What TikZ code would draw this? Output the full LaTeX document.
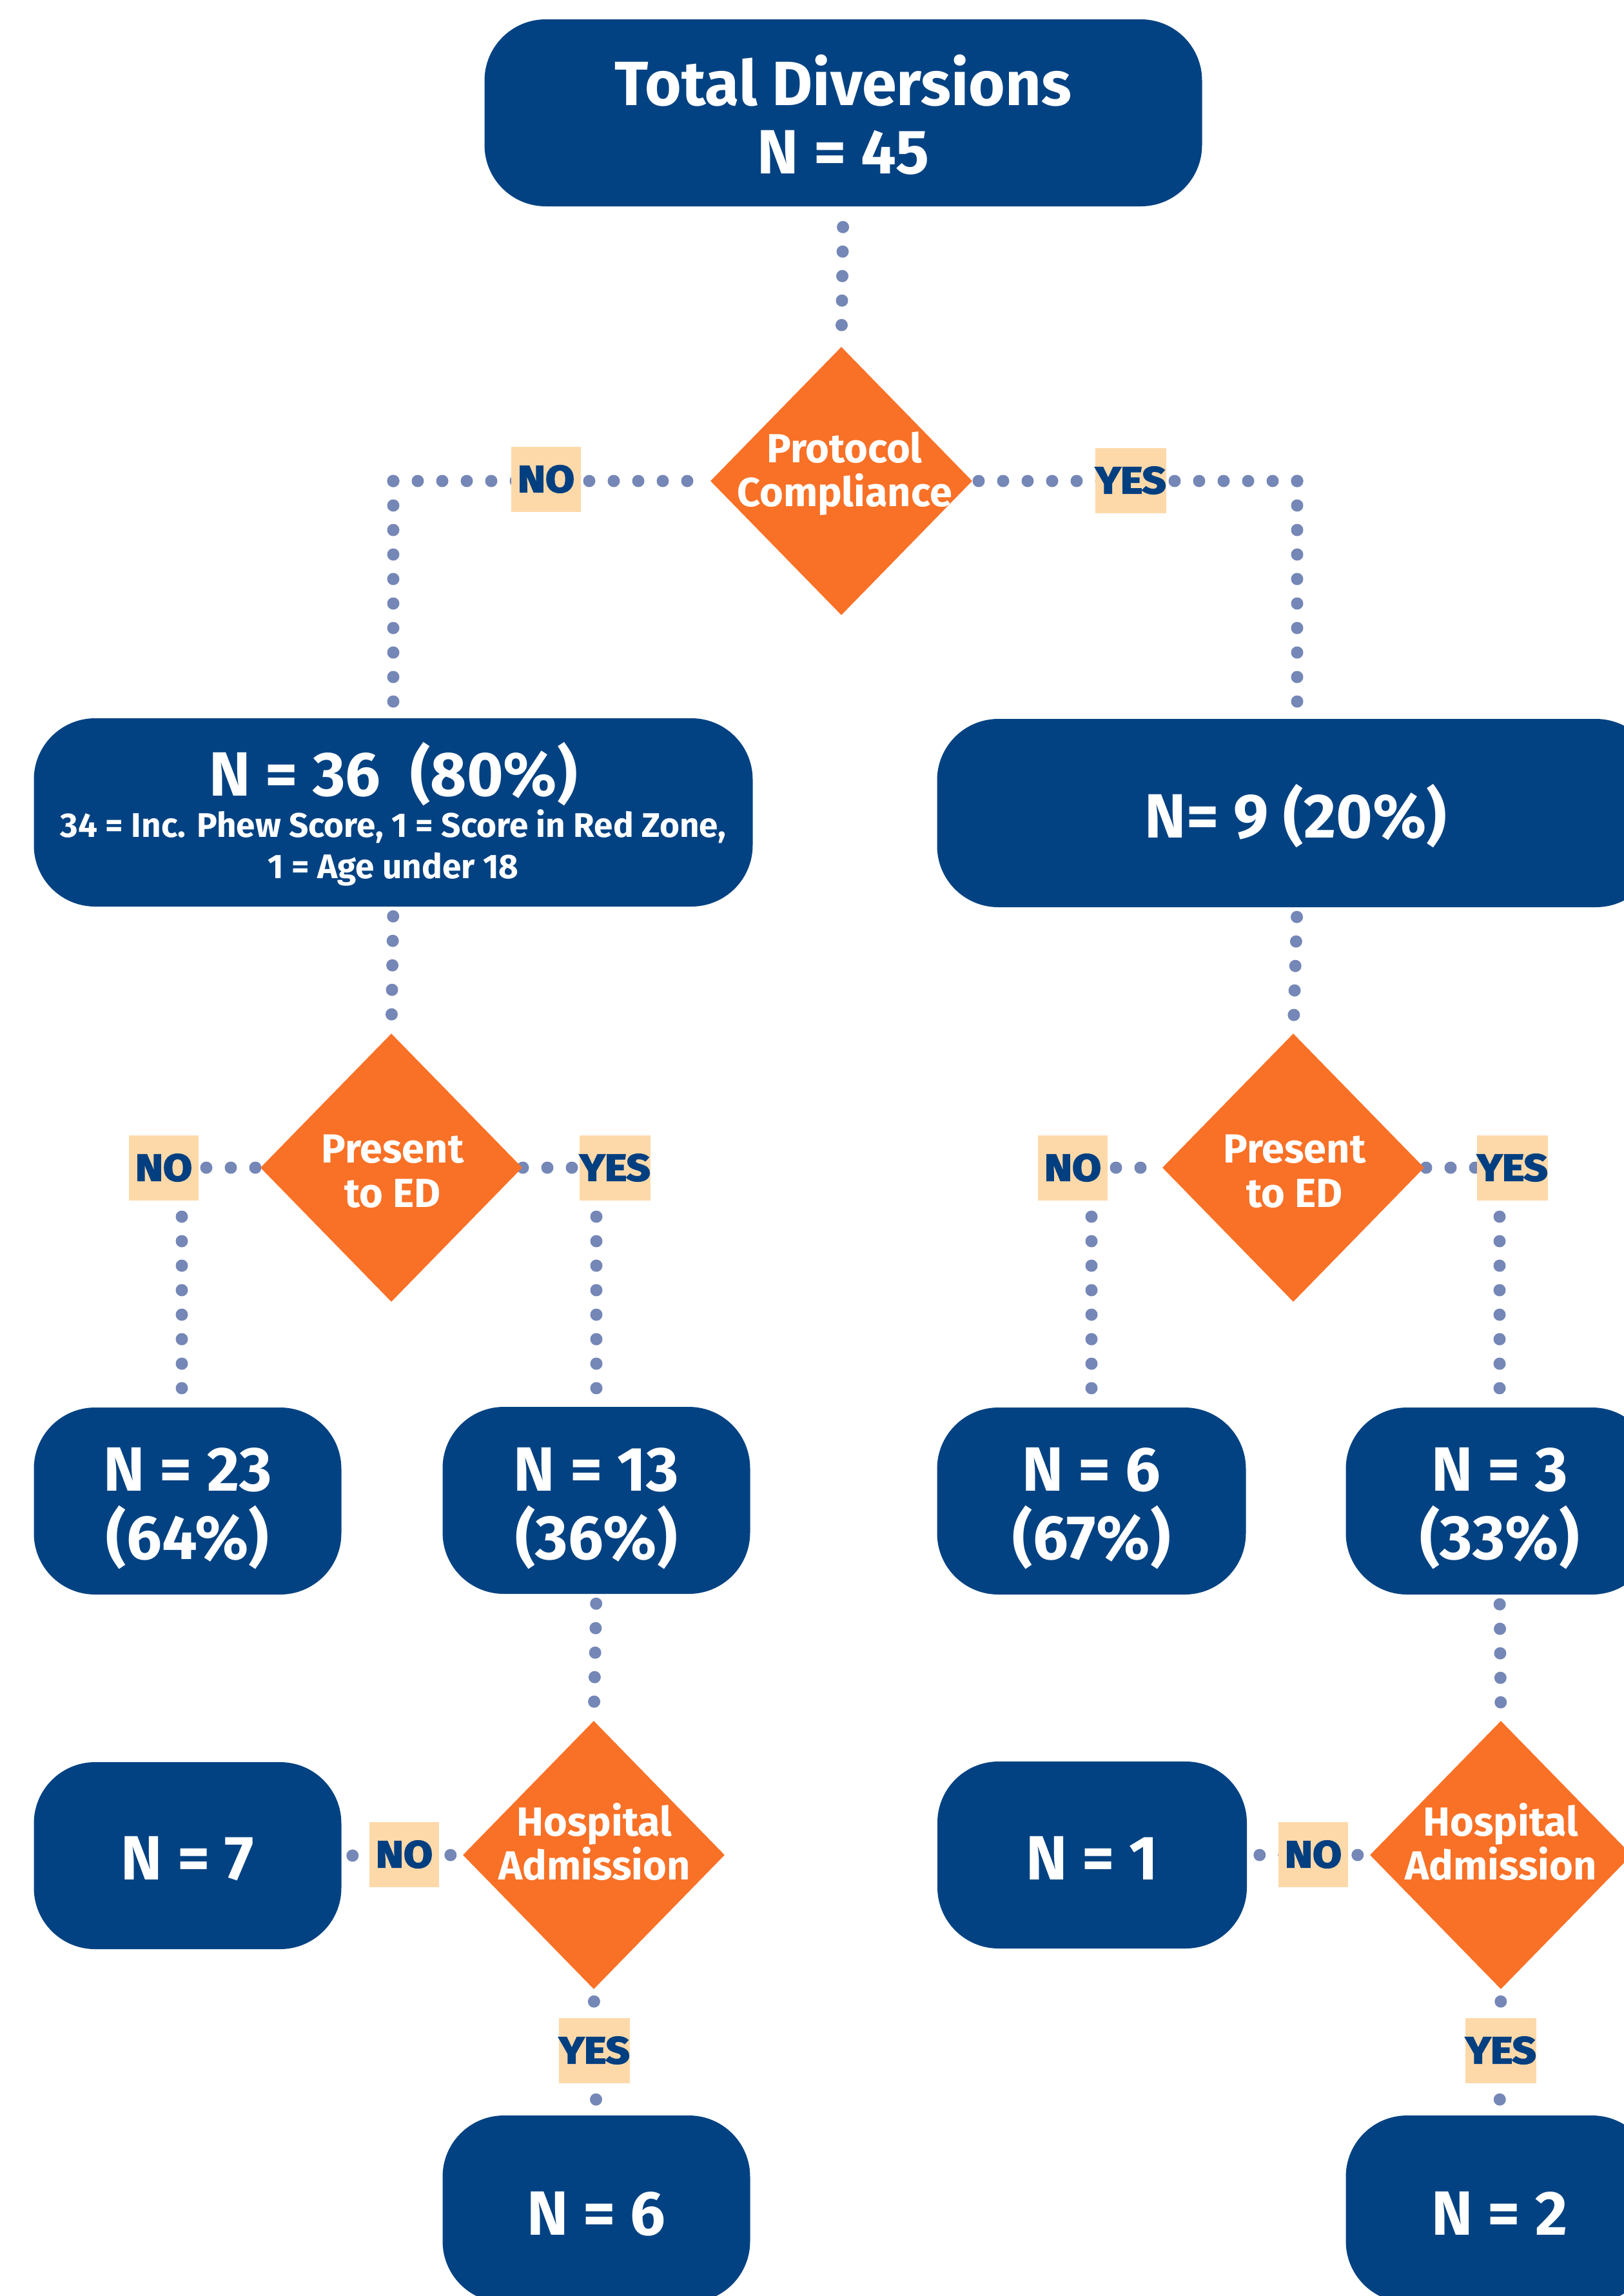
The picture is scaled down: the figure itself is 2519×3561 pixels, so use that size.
\documentclass[tikz,border=0pt]{standalone}
\usepackage{fontspec}
\setmainfont{Fira Sans}
\newfontfamily\lblfont[FakeBold=3.5,FakeStretch=1.12]{Fira Sans}
\usetikzlibrary{shapes.geometric}
\definecolor{boxblue}{HTML}{034282}
\definecolor{dorange}{HTML}{F87127}
\definecolor{dotblue}{HTML}{7587B6}
\definecolor{peach}{HTML}{FDD9AA}
\definecolor{lbltext}{HTML}{023F80}
\pgfdeclarelayer{bg}
\pgfsetlayers{bg,main}
\begin{document}
\begin{tikzpicture}[x=1pt,y=-1pt,
  box/.style={fill=boxblue, rounded corners=95pt, inner sep=0pt, minimum height=290pt},
  dec/.style={diamond, fill=dorange, inner sep=0pt, minimum width=406pt, minimum height=416pt},
  bt/.style={text=white, font=\fontsize{97}{106}\selectfont\bfseries, inner sep=0pt, anchor=base},
  st/.style={text=white, font=\fontsize{53}{64}\selectfont\bfseries, inner sep=0pt, anchor=base},
  dt/.style={text=white, font=\fontsize{63}{68}\selectfont\bfseries, inner sep=0pt, anchor=base},
  lbl/.style={fill=peach, text=lbltext, font=\lblfont\fontsize{58}{60}\selectfont\bfseries, minimum width=108pt, minimum height=101pt, inner sep=0pt},
  dots/.style={draw=dotblue, line width=19pt, line cap=round, dash pattern=on 0pt off 38pt},
]
\useasboundingbox (0,0) rectangle (2519,3561);
\clip (0,0) rectangle (2519,3561);

% boxes
\node[box, minimum width=1113pt] (T) at (1308,175) {};
\node[box, minimum width=1115pt, minimum height=292pt] (b36) at (610,1260) {};
\node[box, minimum width=1117pt, minimum height=292pt] (b9) at (2012,1261) {};
\node[box, minimum width=477pt] (b23) at (291,2328) {};
\node[box, minimum width=477pt] (b13) at (925,2327) {};
\node[box, minimum width=479pt] (b6p) at (1693,2328) {};
\node[box, minimum width=477pt] (b3p) at (2326,2328) {};
\node[box, minimum width=477pt] (b7) at (291,2878) {};
\node[box, minimum width=480pt] (b1) at (1694,2877) {};
\node[box, minimum width=477pt] (b6) at (925,3426) {};
\node[box, minimum width=477pt] (b2) at (2326,3426) {};

% box texts
\node[bt] (Tt1) at (1308,163) {Total Diversions};
\node[bt] (Tt2) at (1308,269) {N = 45};
\node[bt] (b36t) at (610,1234) {N = 36~~(80\%)};
\node[st] (b36s1) at (610,1298) {34 = Inc. Phew Score, 1 = Score in Red Zone,};
\node[st] (b36s2) at (610,1362) {1 = Age under 18};
\node[bt] (b9t) at (2010,1299) {N= 9 (20\%)};
\node[bt] (b23t1) at (291,2312) {N = 23};
\node[bt] (b23t2) at (291,2418) {(64\%)};
\node[bt] (b13t1) at (925,2312) {N = 13};
\node[bt] (b13t2) at (925,2418) {(36\%)};
\node[bt] (b6pt1) at (1693,2312) {N = 6};
\node[bt] (b6pt2) at (1693,2418) {(67\%)};
\node[bt] (b3pt1) at (2326,2312) {N = 3};
\node[bt] (b3pt2) at (2326,2418) {(33\%)};
\node[bt] (b7t) at (291,2915) {N = 7};
\node[bt] (b1t) at (1694,2915) {N = 1};
\node[bt] (b6t) at (925,3466) {N = 6};
\node[bt] (b2t) at (2326,3466) {N = 2};

% decisions
\node[dec] (D1) at (1305,746) {};
\node[dec] (D2L) at (607,1811) {};
\node[dec] (D2R) at (2006,1811) {};
\node[dec] (D3L) at (921,2877) {};
\node[dec] (D3R) at (2328,2877) {};
\node[dt] (D1a) at (1310,717) {Protocol};
\node[dt] (D1b) at (1310,785) {Compliance};
\node[dt] (D2La) at (609,1803) {Present};
\node[dt] (D2Lb) at (609,1872) {to ED};
\node[dt] (D2Ra) at (2008,1803) {Present};
\node[dt] (D2Rb) at (2008,1872) {to ED};
\node[dt] (D3La) at (922,2847) {Hospital};
\node[dt] (D3Lb) at (922,2915) {Admission};
\node[dt] (D3Ra) at (2328,2847) {Hospital};
\node[dt] (D3Rb) at (2328,2915) {Admission};

% corners
\coordinate (cL1) at (b36.north |- D1.west);
\coordinate (cR1) at (b9.north |- D1.east);
\coordinate (cL2a) at (282,1811);
\coordinate (cL2b) at (b13.north |- D2L.east);
\coordinate (cR2a) at (b6p.north |- D2R.west);
\coordinate (cR2b) at (b3p.north |- D2R.east);

% connectors
\begin{pgfonlayer}{bg}
\draw[dots, shorten <=32pt] (T.south) -- (D1.north);
\draw[dots] (cL1) -- (D1.west);
\draw[dots, shorten >=20pt] (cL1) -- (b36.north);
\draw[dots] (cR1) -- (D1.east);
\draw[dots, shorten >=20pt] (cR1) -- (b9.north);
\draw[dots, shorten <=15pt] (b36.south) -- (D2L.north);
\draw[dots, shorten <=15pt] (b9.south) -- (D2R.north);
\draw[dots] (cL2a) -- (D2L.west);
\draw[dots, shorten >=20pt] (cL2a) -- (cL2a |- b23.north);
\draw[dots] (cL2b) -- (D2L.east);
\draw[dots, shorten >=20pt] (cL2b) -- (b13.north);
\draw[dots] (cR2a) -- (D2R.west);
\draw[dots, shorten >=20pt] (cR2a) -- (b6p.north);
\draw[dots] (cR2b) -- (D2R.east);
\draw[dots, shorten >=20pt] (cR2b) -- (b3p.north);
\draw[dots, shorten <=15pt] (b13.south) -- (D3L.north);
\draw[dots, shorten <=15pt] (b3p.south) -- (D3R.north);
\draw[dots, shorten <=19pt] (D3L.west) -- (b7.east);
\draw[dots, shorten <=19pt] (D3R.west) -- (b1.east);
\draw[dots, shorten <=19pt] (D3L.south) -- (b6.north);
\draw[dots, shorten <=19pt] (D3R.south) -- (b2.north);
\end{pgfonlayer}

% labels
\node[lbl] (l1n) at (847,743) {NO};
\node[lbl] (l1y) at (1754,745) {YES};
\node[lbl] (l2n) at (254,1811) {NO};
\node[lbl] (l2y) at (954,1811) {YES};
\node[lbl] (l3n) at (1664,1811) {NO};
\node[lbl] (l3y) at (2346,1811) {YES};
\node[lbl] (l4n) at (627,2876) {NO};
\node[lbl] (l4y) at (922,3180) {YES};
\node[lbl] (l5n) at (2037,2876) {NO};
\node[lbl] (l5y) at (2328,3180) {YES};
\end{tikzpicture}
\end{document}
